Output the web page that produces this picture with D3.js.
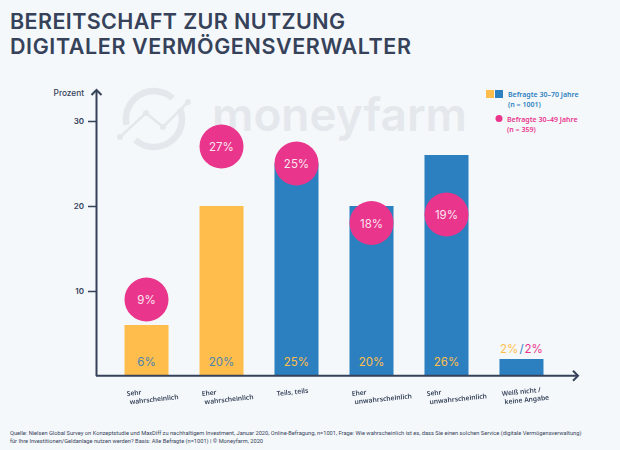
<!DOCTYPE html>
<html>
<head>
<meta charset="utf-8">
<script src="https://cdn.jsdelivr.net/npm/d3@7"></script>
<style>
  html, body { margin: 0; padding: 0; background: #f4f8fa; }
  svg { display: block; }
  .cat { text-rendering: geometricPrecision; }
</style>
</head>
<body>
<div id="chart"></div>
<script>
// Data
const categories = ["Sehr|wahrscheinlich", "Eher|wahrscheinlich", "Teils, teils", "Eher|unwahrscheinlich", "Sehr|unwahrscheinlich", "Weiß nicht /|keine Angabe"];
const allValues = [6, 20, 25, 20, 26, 2];      // Befragte 30-70 Jahre
const youngValues = [9, 27, 25, 18, 19, 2];    // Befragte 30-49 Jahre
const barGroups = ["likely", "likely", "other", "other", "other", "other"];
const yTicks = [10, 20, 30];
const titleLines = ["BEREITSCHAFT ZUR NUTZUNG", "DIGITALER VERMÖGENSVERWALTER"];
const legendAll = ["Befragte 30–70 Jahre", "(n = 1001)"];
const legendYoung = ["Befragte 30–49 Jahre", "(n = 359)"];
const sourceLines = [
  "Quelle: Nielsen Global Survey on Konzeptstudie und MaxDiff zu nachhaltigem Investment, Januar 2020, Online-Befragung, n=1001, Frage: Wie wahrscheinlich ist es, dass Sie einen solchen Service (digitale Vermögensverwaltung)",
  "für Ihre Investitionen/Geldanlage nutzen werden? Basis: Alle Befragte (n=1001) | © Moneyfarm, 2020"
];

const orange = "#ffbe4b", blue = "#2c80bf", pink = "#e9358c", dark = "#36425a", faint = "#e4e8ec";
const headFont = "Inter, 'Open Sans', sans-serif";
const smallFont = "'Noto Sans', 'Open Sans', sans-serif";

const svg = d3.select("#chart").append("svg")
    .attr("width", 620)
    .attr("height", 450);

svg.append("rect").attr("width", 620).attr("height", 450).attr("fill", "#f4f8fa");

// No-op filter: draws the tilted labels on their own layer, which stops the colour fringing
svg.append("defs").append("filter")
    .attr("id", "plain")
    .append("feOffset").attr("dx", 0).attr("dy", 0);

// Title
svg.selectAll(".title").data(titleLines).join("text")
    .attr("class", "title")
    .attr("x", 10)
    .attr("y", (d, i) => 29 + i * 25)
    .attr("fill", dark)
    .attr("textLength", (d, i) => i ? 401 : 335)
    .attr("lengthAdjust", "spacing")
    .style("font", `600 21.5px ${headFont}`)
    .text(d => d);

// Watermark logo: ring broken where the line crosses it
const toRad = Math.PI / 180;
const ringArc = d3.arc().innerRadius(28).outerRadius(28);
const mark = svg.append("g").attr("fill", "none").attr("stroke", faint);
mark.selectAll("path").data([[258, 402], [68, 222]]).join("path")
    .attr("transform", "translate(154,119)")
    .attr("stroke-width", 6.5)
    .attr("d", d => ringArc({startAngle: d[0] * toRad, endAngle: d[1] * toRad}));
const logoLine = [[120, 137], [146, 113], [163, 127], [188, 102]];
mark.append("path")
    .attr("stroke-width", 2.5)
    .attr("d", d3.line()(logoLine));
mark.selectAll("circle").data(logoLine).join("circle")
    .attr("cx", d => d[0]).attr("cy", d => d[1]).attr("r", 3)
    .attr("fill", faint).attr("stroke", "none");
svg.append("text")
    .attr("x", 212)
    .attr("y", 131)
    .attr("fill", faint)
    .attr("textLength", 255)
    .attr("lengthAdjust", "spacingAndGlyphs")
    .style("font", `600 46px ${headFont}`)
    .text("moneyfarm");

// Scales
const x = d3.scaleBand()
    .domain(categories)
    .range([124.5, 543.5])
    .paddingInner(0.413)
    .paddingOuter(0);
const y = d3.scaleLinear().domain([0, 30]).range([376, 121]);
const barColor = d3.scaleOrdinal().domain(["likely", "other"]).range([orange, blue]);

// Bars
svg.selectAll(".bar").data(categories).join("rect")
    .attr("class", "bar")
    .attr("x", d => x(d))
    .attr("y", (d, i) => y(allValues[i]))
    .attr("width", x.bandwidth())
    .attr("height", (d, i) => y(0) - y(allValues[i]))
    .attr("fill", (d, i) => barColor(barGroups[i]));

// Percent labels at the foot of the bars (the last one sits on top)
const barLabels = categories.slice(0, 5);
svg.selectAll(".barlabel").data(barLabels).join("text")
    .attr("class", "barlabel")
    .attr("x", d => x(d) + x.bandwidth() / 2)
    .attr("y", 366)
    .attr("text-anchor", "middle")
    .attr("fill", (d, i) => barGroups[i] === "likely" ? "#4c84b0" : orange)
    .style("font", `400 11.5px ${headFont}`)
    .text((d, i) => allValues[i] + "%");

const lastCat = categories[5];
const lastLabel = svg.append("text")
    .attr("x", x(lastCat) + x.bandwidth() / 2)
    .attr("y", y(allValues[5]) - 6)
    .attr("text-anchor", "middle")
    .style("font", `400 11.5px ${headFont}`);
lastLabel.append("tspan").attr("fill", orange).text(allValues[5] + "%");
lastLabel.append("tspan").attr("fill", blue).attr("dx", 1).text("/");
lastLabel.append("tspan").attr("fill", pink).attr("dx", 1).text(youngValues[5] + "%");

// Bubbles for the younger group, centred on their value
const bubbleCats = categories.slice(0, 5);
const bubbles = svg.selectAll(".bubble").data(bubbleCats).join("g")
    .attr("class", "bubble")
    .attr("transform", (d, i) => `translate(${x(d) + x.bandwidth() / 2},${y(youngValues[i])})`);
bubbles.append("circle").attr("r", 22).attr("fill", pink);
bubbles.append("text")
    .attr("y", 4.5)
    .attr("text-anchor", "middle")
    .attr("fill", "#fbe6f0")
    .style("font", `400 11.5px ${headFont}`)
    .text((d, i) => youngValues[i] + "%");

// Y axis
const yAxis = svg.append("g")
    .attr("transform", "translate(96,0)")
    .call(d3.axisLeft(y).tickValues(yTicks).tickSize(8).tickPadding(4));
yAxis.select(".domain").remove();
yAxis.selectAll(".tick line").attr("stroke", dark).attr("stroke-width", 1.5);
yAxis.selectAll(".tick text")
    .attr("fill", dark)
    .style("font", `600 8px ${headFont}`);

// Axis lines with arrow heads
const axisLine = d3.line();
const axes = svg.append("g").attr("fill", "none").attr("stroke", dark).attr("stroke-width", 2);
axes.append("path").attr("d", axisLine([[96.5, 376], [96.5, 90]]));
axes.append("path").attr("d", axisLine([[91.5, 95], [96.5, 90], [101.5, 95]]));
axes.append("path").attr("d", axisLine([[96, 375.7], [578, 375.7]]));
axes.append("path").attr("d", axisLine([[573, 370.7], [578, 375.7], [573, 380.7]]));

svg.append("text")
    .attr("x", 84)
    .attr("y", 96)
    .attr("text-anchor", "end")
    .attr("fill", dark)
    .style("font", `500 8.3px ${headFont}`)
    .text("Prozent");

// Category labels, slightly tilted
const catGroup = svg.append("g").attr("filter", "url(#plain)");
const catLabels = catGroup.selectAll(".cat").data(categories).join("text")
    .attr("class", "cat")
    .attr("transform", d => `translate(${x(d) + 2.5},396) rotate(-6)`)
    .attr("fill", dark)
    .style("font", `600 6.7px ${smallFont}`);
catLabels.selectAll("tspan").data(d => d.split("|")).join("tspan")
    .attr("x", (d, i) => i ? 2 : 0)
    .attr("dy", (d, i) => i ? 8.5 : 0)
    .attr("fill", dark)
    .text(d => d);

// Legend
svg.append("rect").attr("x", 486).attr("y", 90).attr("width", 8).attr("height", 8).attr("fill", orange);
svg.append("rect").attr("x", 495).attr("y", 90).attr("width", 8).attr("height", 8).attr("fill", blue);
svg.append("circle").attr("cx", 499).attr("cy", 118.5).attr("r", 3.5).attr("fill", pink);
svg.selectAll(".leg-all").data(legendAll).join("text")
    .attr("class", "leg-all")
    .attr("x", 508)
    .attr("y", (d, i) => 97 + i * 9.7)
    .attr("fill", blue)
    .style("font", `600 7px ${smallFont}`)
    .text(d => d);
svg.selectAll(".leg-young").data(legendYoung).join("text")
    .attr("class", "leg-young")
    .attr("x", 507)
    .attr("y", (d, i) => 122 + i * 9.7)
    .attr("fill", pink)
    .style("font", `600 7px ${smallFont}`)
    .text(d => d);

// Source note
svg.selectAll(".source").data(sourceLines).join("text")
    .attr("class", "source")
    .attr("x", 10)
    .attr("y", (d, i) => 435 + i * 7.5)
    .attr("fill", dark)
    .style("font", `400 5.7px Roboto, ${smallFont}`)
    .text(d => d);
</script>
</body>
</html>
